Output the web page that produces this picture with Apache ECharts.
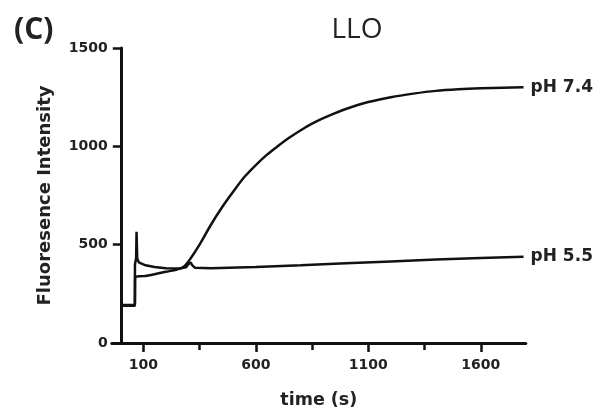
<!DOCTYPE html>
<html>
<head>
<meta charset="utf-8">
<script src="https://cdn.jsdelivr.net/npm/echarts@6/dist/echarts.min.js"></script>
<style>html,body{margin:0;padding:0;background:#fff;}#c{width:598px;height:419px;}</style>
</head>
<body>
<div id="c"></div>
<script>
// Data (time in s, fluorescence intensity)
const ph74 = [[5,190],[63,190],[64,336],[100,340],[150,350],[200,362],[250,374],[280,388],[310,430],[350,500],[400,600],[450,690],[500,770],[550,845],[600,905],[650,958],[700,1003],[750,1045],[800,1082],[850,1115],[900,1143],[950,1168],[1000,1190],[1100,1225],[1200,1250],[1300,1268],[1400,1282],[1500,1290],[1600,1295],[1700,1298],[1790,1300]];
const ph55 = [[5,193],[62,193],[63,400],[68,430],[70,566],[73,430],[80,410],[110,395],[150,386],[200,380],[260,379],[290,385],[300,400],[310,410],[318,395],[330,382],[400,380],[600,387],[800,395],[1000,405],[1200,415],[1400,424],[1600,432],[1790,438]];
const seriesNames = ['pH 7.4', 'pH 5.5'];
const xMajorTicks = [100, 600, 1100, 1600];
const xMinorTicks = [350, 850, 1350];
const yTicks = [0, 500, 1000, 1500];

const chart = echarts.init(document.getElementById('c'));
const ink = '#111';
const FONT = 'DejaVu Sans, sans-serif';
const axisFont = {fontFamily: FONT, fontWeight: 'bold', fontSize: 14, color: '#222', formatter: v => String(v)};
const nameFont = {fontFamily: FONT, fontWeight: 'bold', fontSize: 17.5, color: '#222'};
chart.setOption({
  animation: false,
  title: [
    {text: 'LLO', left: 352, top: 11, textAlign: 'center', textStyle: {fontFamily: 'Open Sans', fontWeight: 'normal', fontSize: 28, color: '#222'}},
    {text: '(C)', left: 9, top: 10, textStyle: {fontFamily: 'Open Sans', fontWeight: 'bold', fontSize: 30, color: '#222'}}
  ],
  grid: {left: 111.8, right: 72.2, top: 48, bottom: 76, containLabel: false},
  xAxis: [{
    type: 'value', min: -40, max: 1800,
    name: 'time (s)', nameLocation: 'middle', nameGap: 48, nameMoveOverlap: false,
    nameTextStyle: nameFont,
    axisLine: {show: true, lineStyle: {color: ink, width: 3}},
    axisTick: {show: true, length: 9, customValues: xMajorTicks, lineStyle: {color: ink, width: 2.5}},
    axisLabel: Object.assign({customValues: xMajorTicks, margin: 15}, axisFont),
    splitLine: {show: false}
  }, {
    type: 'value', min: -40, max: 1800, position: 'bottom',
    axisLine: {show: false},
    axisTick: {show: true, length: 7, customValues: xMinorTicks, lineStyle: {color: ink, width: 2.5}},
    axisLabel: {show: false},
    splitLine: {show: false}
  }],
  yAxis: {
    type: 'value', min: 0, max: 1500,
    name: 'Fluoresence Intensity', nameLocation: 'middle', nameGap: 57, nameMoveOverlap: false,
    nameTextStyle: Object.assign({}, nameFont, {fontSize: 18}),
    axisLine: {show: true, onZero: true, lineStyle: {color: ink, width: 3}},
    axisTick: {show: true, length: 8, customValues: yTicks, lineStyle: {color: ink, width: 2.5}},
    axisLabel: Object.assign({customValues: yTicks, margin: 4}, axisFont),
    splitLine: {show: false}
  },
  series: [
    {name: seriesNames[0], type: 'line', data: ph74, showSymbol: false, smooth: 0.3, lineStyle: {color: ink, width: 2.5},
     endLabel: {show: true, formatter: seriesNames[0], distance: 7, fontFamily: FONT, fontWeight: 'bold', fontSize: 17, color: '#222'}},
    {name: seriesNames[1], type: 'line', data: ph55, showSymbol: false, lineStyle: {color: ink, width: 2.5},
     endLabel: {show: true, formatter: seriesNames[1], distance: 7, fontFamily: FONT, fontWeight: 'bold', fontSize: 17, color: '#222'}}
  ]
});
</script>
</body>
</html>
